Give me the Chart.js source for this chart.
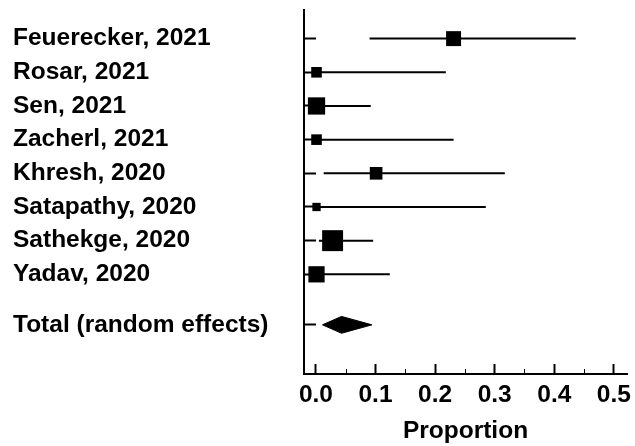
<!DOCTYPE html>
<html>
<head>
<meta charset="utf-8">
<script src="https://cdn.jsdelivr.net/npm/chart.js@4.4.1/dist/chart.umd.min.js"></script>
<style>
  html, body { margin: 0; padding: 0; background: #fff; }
  #wrap { width: 635px; height: 446px; }
</style>
</head>
<body>
<div id="wrap"><canvas id="forest"></canvas></div>
<script>
// Studies and their estimates
const studies = ['Feuerecker, 2021', 'Rosar, 2021', 'Sen, 2021', 'Zacherl, 2021',
                 'Khresh, 2020', 'Satapathy, 2020', 'Sathekge, 2020', 'Yadav, 2020'];
const proportion = [0.231, 0.001, 0.001, 0.001, 0.101, 0.001, 0.028, 0.001];
const ciLow      = [0.090, 0.000, 0.000, 0.000, 0.013, 0.000, 0.005, 0.000];
const ciHigh     = [0.436, 0.218, 0.092, 0.231, 0.317, 0.285, 0.096, 0.124];
const weights    = [13.3, 6.7, 17.7, 6.7, 9.5, 4.1, 26.1, 15.7]; // % weight (box area)

const totalLabel = 'Total (random effects)';
const totalEstimate = 0.043;
const totalLow = 0.011;
const totalHigh = 0.094;

const xTicks = [0.0, 0.1, 0.2, 0.3, 0.4, 0.5];
const xMinorTicks = [0.05, 0.15, 0.25, 0.35, 0.45];

// row positions on the y scale
const studyRows = studies.map((s, i) => i + 1);
const totalRow = 9.5;
const rowValues = studyRows.concat([totalRow]);
const rowLabels = studies.concat([totalLabel]);

const font = { family: '"Liberation Sans", Arial, sans-serif', weight: 'bold', size: 24.5 };
const boxScale = 4.1;      // px of box side per sqrt(weight)
const diamondHalf = 0.25;  // half height of the diamond, in row units

Chart.defaults.color = '#000';

// short minor ticks on the x axis
const minorTicks = {
    id: 'minorTicks',
    afterDraw(chart) {
        const { ctx } = chart;
        const x = chart.scales.x;
        ctx.save();
        ctx.strokeStyle = '#000';
        ctx.lineWidth = 1;
        xMinorTicks.forEach(v => {
            const px = Math.round(x.getPixelForValue(v)) + 0.5;
            ctx.beginPath();
            ctx.moveTo(px, x.top);
            ctx.lineTo(px, x.top - 5);
            ctx.stroke();
        });
        ctx.restore();
    }
};

const ciSets = studies.map((s, i) => ({
    type: 'line',
    data: [{ x: ciLow[i], y: studyRows[i] }, { x: ciHigh[i], y: studyRows[i] }],
    borderColor: '#000',
    borderWidth: 2,
    pointRadius: 0,
    fill: false
}));

const boxSet = {
    type: 'scatter',
    data: proportion.map((p, i) => ({ x: p, y: studyRows[i] })),
    pointStyle: 'rect',
    pointRadius: weights.map(w => boxScale * Math.sqrt(w) / Math.SQRT2),
    pointHoverRadius: weights.map(w => boxScale * Math.sqrt(w) / Math.SQRT2),
    backgroundColor: '#000',
    borderWidth: 0
};

const diamondSet = {
    type: 'line',
    data: [
        { x: totalLow, y: totalRow },
        { x: totalEstimate, y: totalRow - diamondHalf },
        { x: totalHigh, y: totalRow },
        { x: totalEstimate, y: totalRow + diamondHalf },
        { x: totalLow, y: totalRow }
    ],
    borderColor: '#000',
    backgroundColor: '#000',
    borderWidth: 1,
    pointRadius: 0,
    fill: 'shape'
};

new Chart(document.getElementById('forest'), {
    type: 'scatter',
    data: { datasets: ciSets.concat([boxSet, diamondSet]) },
    options: {
        responsive: true,
        maintainAspectRatio: false,
        animation: false,
        layout: { autoPadding: false, padding: { left: 13, top: 10, right: 8, bottom: 0 } },
        plugins: { legend: { display: false }, tooltip: { enabled: false } },
        scales: {
            x: {
                type: 'linear',
                min: -0.02,
                max: 0.522,
                afterBuildTicks: s => { s.ticks = xTicks.map(v => ({ value: v })); },
                afterFit: s => { s.height = 72; s.paddingLeft = 0; s.paddingRight = 0; },
                ticks: {
                    autoSkip: false,
                    maxRotation: 0,
                    padding: 17,
                    font: font,
                    color: '#000',
                    callback: v => v.toFixed(1)
                },
                grid: { drawOnChartArea: false, tickLength: -10, tickWidth: 2, tickColor: '#000' },
                border: { color: '#000', width: 2 },
                title: { display: true, text: 'Proportion', font: font, color: '#000', padding: 0 }
            },
            y: {
                type: 'linear',
                reverse: true,
                min: 0.15,
                max: 10.96,
                afterBuildTicks: s => { s.ticks = rowValues.map(v => ({ value: v })); },
                afterFit: s => { s.width = 291; s.paddingTop = 0; s.paddingBottom = 0; },
                ticks: {
                    autoSkip: false,
                    crossAlign: 'far',
                    font: font,
                    color: '#000',
                    callback: (v, i) => rowLabels[i]
                },
                grid: { drawOnChartArea: false, tickLength: -12, tickWidth: 2, tickColor: '#000' },
                border: { color: '#000', width: 2 }
            }
        }
    },
    plugins: [minorTicks]
});
</script>
</body>
</html>
